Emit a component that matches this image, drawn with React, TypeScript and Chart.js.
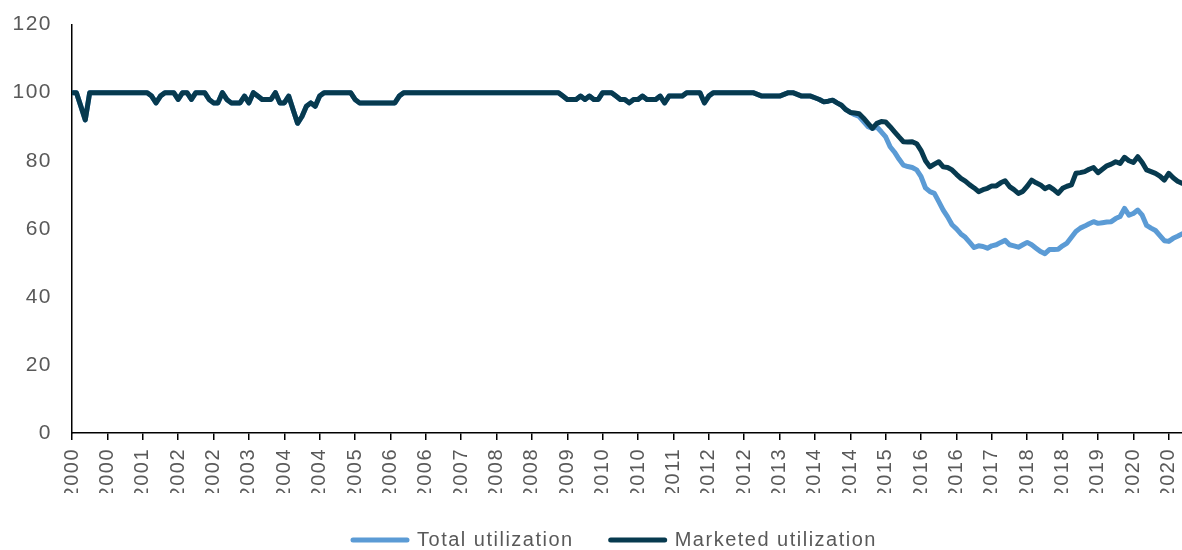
import React, { useEffect, useRef } from "react";
import { Chart, registerables } from "chart.js";

Chart.register(...registerables);

// Monthly values, Jan 2000 .. Dec 2020 (12 per row = one year)
const marketedUtilization: number[] = [
  100, 100, 96, 92, 100, 100, 100, 100, 100, 100, 100, 100, // 2000
  100, 100, 100, 100, 100, 100, 99, 97, 99, 100, 100, 100, // 2001
  98, 100, 100, 98, 100, 100, 100, 98, 97, 97, 100, 98, // 2002
  97, 97, 97, 99, 97, 100, 99, 98, 98, 98, 100, 97, // 2003
  97, 99, 95, 91, 93, 96, 97, 96, 99, 100, 100, 100, // 2004
  100, 100, 100, 100, 98, 97, 97, 97, 97, 97, 97, 97, // 2005
  97, 97, 99, 100, 100, 100, 100, 100, 100, 100, 100, 100, // 2006
  100, 100, 100, 100, 100, 100, 100, 100, 100, 100, 100, 100, // 2007
  100, 100, 100, 100, 100, 100, 100, 100, 100, 100, 100, 100, // 2008
  100, 100, 100, 99, 98, 98, 98, 99, 98, 99, 98, 98, // 2009
  100, 100, 100, 99, 98, 98, 97, 98, 98, 99, 98, 98, // 2010
  98, 99, 97, 99, 99, 99, 99, 100, 100, 100, 100, 97, // 2011
  99, 100, 100, 100, 100, 100, 100, 100, 100, 100, 100, 99.5, // 2012
  99, 99, 99, 99, 99, 99.5, 100, 100, 99.5, 99, 99, 99, // 2013
  98.5, 98, 97.3, 97.5, 97.8, 97, 96.3, 95, 94.2, 94, 93.8, 92.5, // 2014
  91, 89.5, 91, 91.5, 91.4, 90, 88.5, 87, 85.6, 85.5, 85.6, 85, // 2015
  83, 80, 78.2, 79, 79.7, 78.2, 78, 77.3, 76, 74.8, 74, 72.9, // 2016
  72, 70.9, 71.5, 71.9, 72.6, 72.6, 73.5, 74.1, 72.4, 71.5, 70.4, 71, // 2017
  72.5, 74.3, 73.5, 72.9, 71.8, 72.4, 71.5, 70.4, 71.9, 72.5, 72.9, 76.3, // 2018
  76.5, 76.8, 77.5, 78, 76.5, 77.5, 78.5, 79, 79.7, 79.2, 81, 80, // 2019
  79.5, 81.2, 79.5, 77.3, 76.8, 76.3, 75.5, 74.3, 76.3, 75, 74, 73.4, // 2020
];

const totalUtilization: number[] = [
  100, 100, 96, 92, 100, 100, 100, 100, 100, 100, 100, 100, // 2000
  100, 100, 100, 100, 100, 100, 99, 97, 99, 100, 100, 100, // 2001
  98, 100, 100, 98, 100, 100, 100, 98, 97, 97, 100, 98, // 2002
  97, 97, 97, 99, 97, 100, 99, 98, 98, 98, 100, 97, // 2003
  97, 99, 95, 91, 93, 96, 97, 96, 99, 100, 100, 100, // 2004
  100, 100, 100, 100, 98, 97, 97, 97, 97, 97, 97, 97, // 2005
  97, 97, 99, 100, 100, 100, 100, 100, 100, 100, 100, 100, // 2006
  100, 100, 100, 100, 100, 100, 100, 100, 100, 100, 100, 100, // 2007
  100, 100, 100, 100, 100, 100, 100, 100, 100, 100, 100, 100, // 2008
  100, 100, 100, 99, 98, 98, 98, 99, 98, 99, 98, 98, // 2009
  100, 100, 100, 99, 98, 98, 97, 98, 98, 99, 98, 98, // 2010
  98, 99, 97, 99, 99, 99, 99, 100, 100, 100, 100, 97, // 2011
  99, 100, 100, 100, 100, 100, 100, 100, 100, 100, 100, 99.5, // 2012
  99, 99, 99, 99, 99, 99.5, 100, 100, 99.5, 99, 99, 99, // 2013
  98.5, 98, 97.3, 97.5, 97.8, 97, 96.3, 95, 94.2, 93.5, 93, 91.5, // 2014
  90, 89.5, 89.9, 88.5, 87, 84.1, 82.5, 80.5, 78.7, 78.3, 78, 77.3, // 2015
  75.3, 72, 70.9, 70.4, 68, 65.5, 63.5, 61.2, 60, 58.5, 57.5, 56, // 2016
  54.5, 55, 54.8, 54.3, 55, 55.3, 56, 56.6, 55.3, 55, 54.6, 55.3, // 2017
  56, 55.3, 54.3, 53.3, 52.7, 53.9, 53.9, 54, 55, 55.8, 57.5, 59.2, // 2018
  60.2, 60.8, 61.5, 62.1, 61.6, 61.8, 62, 62.1, 63, 63.6, 66, 64, // 2019
  64.5, 65.5, 64, 61, 60.2, 59.5, 58, 56.5, 56.3, 57.2, 57.8, 58.5, // 2020
];

// One label every 8 months, starting Jan 2000
const tickLabels: string[] = [
  "2000", "2000", "2001", "2002", "2002", "2003", "2004", "2004",
  "2005", "2006", "2006", "2007", "2008", "2008", "2009", "2010",
  "2010", "2011", "2012", "2012", "2013", "2014", "2014", "2015",
  "2016", "2016", "2017", "2018", "2018", "2019", "2020", "2020",
];
const tickStepMonths = 8;

const seriesNames = ["Total utilization", "Marketed utilization"];
const LIGHT = "#5b9bd5";
const DARK = "#073a4f";
const TEXT = "#595959";

const spacingPlugin = {
  id: "letterSpacingPlugin",
  beforeUpdate(chart: any) {
    chart.ctx.letterSpacing = "1.5px";
  },
  afterLayout(chart: any) {
    if (chart.legend) {
      chart.legend.left += 24;
      chart.legend.right += 24;
    }
  },
  beforeDraw(chart: any) {
    chart.ctx.letterSpacing = "1.5px";
  },
};

export default function App() {
  const ref = useRef<HTMLCanvasElement | null>(null);

  useEffect(() => {
    if (!ref.current) return;
    Chart.defaults.font.family = "'Liberation Sans', Arial, sans-serif";
    Chart.defaults.font.size = 20;
    Chart.defaults.color = TEXT;

    const toPoints = (arr: number[]) => arr.map((y, i) => ({ x: i, y }));

    const chart = new Chart(ref.current, {
      type: "line",
      data: {
        datasets: [
          {
            label: seriesNames[0],
            data: toPoints(totalUtilization),
            borderColor: LIGHT,
            backgroundColor: LIGHT,
            borderWidth: 5,
            pointRadius: 0,
            tension: 0,
            borderJoinStyle: "round",
            borderCapStyle: "round",
            order: 1,
          },
          {
            label: seriesNames[1],
            data: toPoints(marketedUtilization),
            borderColor: DARK,
            backgroundColor: DARK,
            borderWidth: 5,
            pointRadius: 0,
            tension: 0,
            borderJoinStyle: "round",
            borderCapStyle: "round",
            order: 0,
          },
        ],
      },
      options: {
        animation: false,
        responsive: false,
        maintainAspectRatio: false,
        layout: { padding: { top: 19, left: 0, right: 0, bottom: -10 } },
        plugins: {
          tooltip: { enabled: false },
          legend: {
            position: "bottom",
            labels: {
              boxWidth: 54,
              boxHeight: 0,
              padding: 37,
              color: TEXT,
              font: { size: 20 },
              sort: (a: any, b: any) => a.datasetIndex - b.datasetIndex,
            },
          },
        },
        scales: {
          x: {
            type: "linear",
            min: 0,
            max: marketedUtilization.length - 1,
            afterBuildTicks: (axis: any) => {
              axis.ticks = tickLabels.map((_, i) => ({ value: i * tickStepMonths }));
            },
            afterFit: (scale: any) => {
              scale.height = 60;
              scale.paddingRight = 0;
              scale.paddingLeft = 0;
            },
            ticks: {
              stepSize: tickStepMonths,
              autoSkip: false,
              maxRotation: 90,
              minRotation: 90,
              padding: 8,
              color: TEXT,
              font: { size: 20 },
              callback: (v: any) => tickLabels[Math.round(Number(v) / tickStepMonths)] ?? "",
            },
            grid: {
              display: true,
              drawOnChartArea: false,
              drawTicks: true,
              tickLength: 7,
              color: "#000",
              lineWidth: 1.5,
            },
            border: { display: true, color: "#000", width: 1.5 },
          },
          y: {
            min: 0,
            max: 120,
            afterFit: (scale: any) => {
              scale.width = 72;
            },
            ticks: {
              stepSize: 20,
              padding: 12,
              color: TEXT,
              font: { size: 21 },
            },
            grid: { display: false },
            border: { display: true, color: "#000", width: 1.5 },
          },
        },
      },
      plugins: [spacingPlugin],
    } as any);

    return () => chart.destroy();
  }, []);

  return (
    <div style={{ position: "fixed", left: 0, top: 0, width: 1182, height: 550, background: "#fff" }}>
      <canvas ref={ref} width={1182} height={550} style={{ display: "block" }} />
    </div>
  );
}
